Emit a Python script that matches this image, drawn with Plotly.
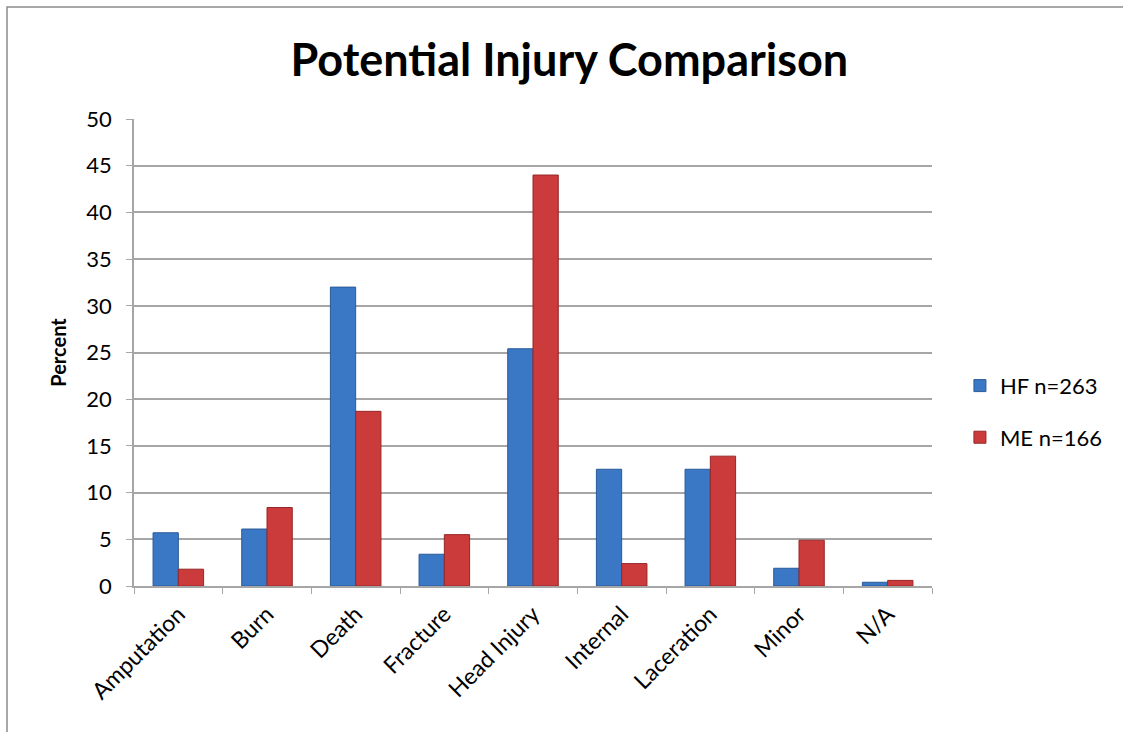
import plotly.graph_objects as go

categories = ["Amputation", "Burn", "Death", "Fracture", "Head Injury",
              "Internal", "Laceration", "Minor", "N/A"]
hf_values = [5.7, 6.1, 32.0, 3.4, 25.4, 12.5, 12.5, 1.9, 0.4]
me_values = [1.8, 8.4, 18.7, 5.5, 44.0, 2.4, 13.9, 4.9, 0.6]
series_names = ["HF n=263", "ME n=166"]
y_ticks = [0, 5, 10, 15, 20, 25, 30, 35, 40, 45, 50]

FONT = "Lato, Carlito, Calibri, sans-serif"
GRID = "#a6a6a6"

fig = go.Figure()
fig.add_trace(go.Bar(
    x=categories, y=hf_values, name=series_names[0], legendgroup="hf",
    marker=dict(color="#3a78c6", line=dict(color="#2a5a98", width=1)),
))
fig.add_trace(go.Bar(
    x=categories, y=me_values, name=series_names[1], legendgroup="me",
    marker=dict(color="#cc3b3b", line=dict(color="#962626", width=1)),
))

fig.update_layout(
    width=1123, height=732,
    margin=dict(l=134, r=191, t=119, b=146),
    paper_bgcolor="white", plot_bgcolor="white",
    barmode="group", bargap=0.43, bargroupgap=0,
    font=dict(family=FONT, color="black", size=20),
    title=dict(text="<b>Potential Injury Comparison</b>",
               font=dict(family=FONT, size=45, color="black"),
               x=0.507, xanchor="center", y=0.918, yanchor="middle"),
    legend=dict(x=1.035, y=0.373, xanchor="left", yanchor="middle",
                font=dict(family=FONT, size=22), itemwidth=30,
                tracegroupgap=20, bgcolor="rgba(0,0,0,0)"),
    showlegend=True,
)

fig.update_xaxes(
    type="category", showline=True, linecolor=GRID, linewidth=1.5,
    ticks="outside", tickson="boundaries", ticklen=6, tickcolor=GRID,
    tickangle=-45, tickfont=dict(family=FONT, size=23),
    ticklabelstandoff=4, showgrid=False,
)
fig.update_yaxes(
    range=[0, 50], tickvals=y_ticks, showline=True, linecolor=GRID,
    linewidth=1.5, ticks="outside", ticklen=6, tickcolor=GRID,
    showgrid=True, gridcolor=GRID, gridwidth=1.5,
    tickfont=dict(family=FONT, size=22), ticklabelstandoff=10,
    title=dict(text="<b>Percent</b>", font=dict(family=FONT, size=20),
               standoff=14),
)

# outer chart frame
fig.add_shape(type="rect", xref="paper", yref="paper",
              x0=(7 - 134) / 798, x1=(1140 - 134) / 798,
              y0=(586 - 760) / 467, y1=(586 - 7) / 467,
              line=dict(color="#8c8c8c", width=1.5), layer="below")

fig.write_html("out.html")
